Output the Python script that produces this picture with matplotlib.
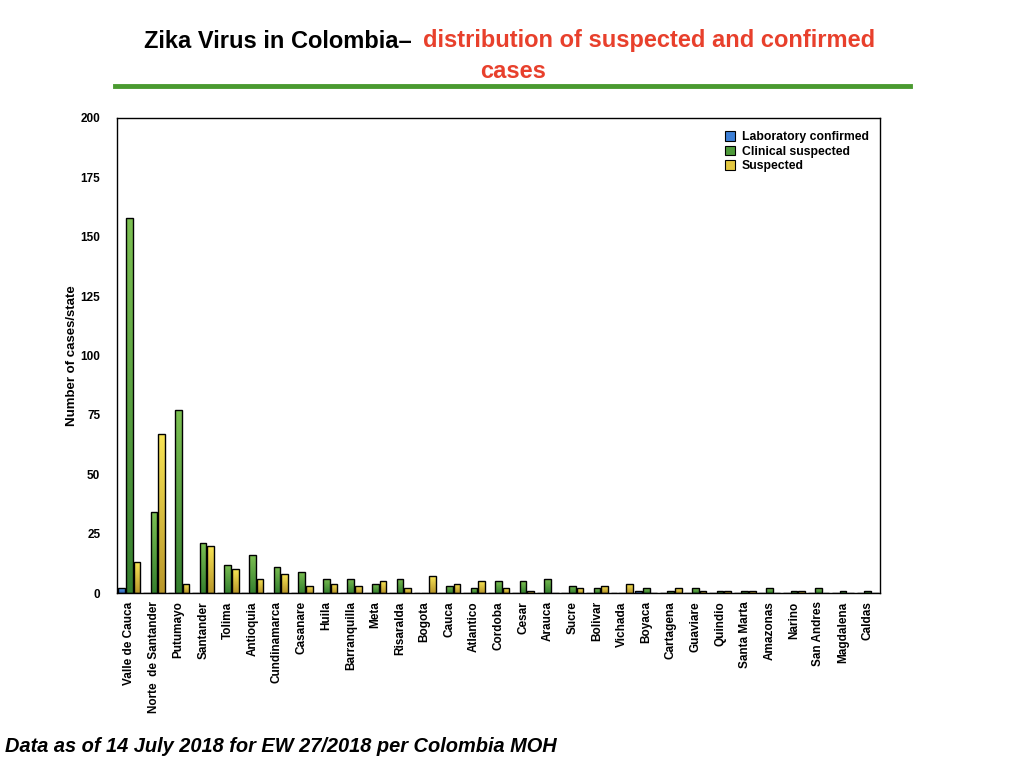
import numpy as np
import matplotlib
matplotlib.use("Agg")
import matplotlib.pyplot as plt
from matplotlib.colors import LinearSegmentedColormap
from matplotlib.patches import Patch

plt.rcParams["font.family"] = ["Liberation Sans", "DejaVu Sans"]
plt.rcParams["font.weight"] = "bold"

# --- data ---
states = ["Valle de Cauca", "Norte  de Santander", "Putumayo", "Santander", "Tolima",
          "Antioquia", "Cundinamarca", "Casanare", "Huila", "Barranquilla", "Meta",
          "Risaralda", "Bogota", "Cauca", "Atlantico", "Cordoba", "Cesar", "Arauca",
          "Sucre", "Bolivar", "Vichada", "Boyaca", "Cartagena", "Guaviare", "Quindio",
          "Santa Marta", "Amazonas", "Narino", "San Andres", "Magdalena", "Caldas"]
lab_confirmed = [2, 0, 0, 0, 0, 0, 0, 0, 0, 0, 0, 0, 0, 0, 0, 0, 0, 0,
                 0, 0, 0, 1, 0, 0, 0, 0, 0, 0, 0, 0, 0]
clinical_suspected = [158, 34, 77, 21, 12, 16, 11, 9, 6, 6, 4, 6, 0, 3, 2, 5, 5, 6,
                      3, 2, 0, 2, 1, 2, 1, 1, 2, 1, 2, 1, 1]
suspected = [13, 67, 4, 20, 10, 6, 8, 3, 4, 3, 5, 2, 7, 4, 5, 2, 1, 0,
             2, 3, 4, 0, 2, 1, 1, 1, 0, 1, 0, 0, 0]
yticks = [0, 25, 50, 75, 100, 125, 150, 175, 200]

series = [
    ("Laboratory confirmed", lab_confirmed, ("#2f63b8", "#5a9de8"), "#3d7fd6"),
    ("Clinical suspected", clinical_suspected, ("#347f2e", "#7cc052"), "#4e9a3a"),
    ("Suspected", suspected, ("#b8962a", "#f8e555"), "#e3c741"),
]

fig = plt.figure(figsize=(10.24, 7.68), dpi=100)
ax = fig.add_axes([117 / 1024, 1 - 593 / 768, 763 / 1024, 475 / 768])

x = np.arange(len(states))
width = 0.27
offset = 0.31
grad = np.linspace(0, 1, 256).reshape(-1, 1)

for i, (name, vals, (c_lo, c_hi), _) in enumerate(series):
    cmap = LinearSegmentedColormap.from_list(name, [c_lo, c_hi])
    bars = ax.bar(x + (i - 1) * offset, vals, width, facecolor="none",
                  edgecolor="black", linewidth=1.0, zorder=3)
    for b in bars:
        h = b.get_height()
        if h <= 0:
            continue
        im = ax.imshow(grad, cmap=cmap, origin="lower", aspect="auto",
                       extent=[b.get_x(), b.get_x() + b.get_width(), 0, h], zorder=2)
        im.set_clip_path(b)

ax.set_xlim(-0.5, len(states) - 0.5)
ax.set_ylim(0, 200)
ax.set_yticks(yticks)
ax.set_xticks(x)
ax.set_xticklabels(states, rotation=90, fontsize=8.5, fontweight="bold")
ax.tick_params(axis="y", length=0, labelsize=8.5, pad=12)
ax.tick_params(axis="x", length=0, pad=6)
for s in ax.spines.values():
    s.set_linewidth(1.0)
ax.set_ylabel("Number of cases/state", fontsize=9.5, fontweight="bold", labelpad=2)

handles = [Patch(facecolor=c, edgecolor="black", linewidth=0.8) for _, _, _, c in series]
ax.legend(handles, [s[0] for s in series], loc="upper right", frameon=False,
          handlelength=0.8, handleheight=0.8, handletextpad=0.6,
          labelspacing=0.2, bbox_to_anchor=(1.0, 0.995),
          prop={"weight": "bold", "size": 8.8})

# title
fig.text(412 / 1024, 1 - 41 / 768, "Zika Virus in Colombia\u2013", ha="right", va="center",
         fontsize=17, fontweight="bold", color="black")
fig.text(423 / 1024, 1 - 41 / 768, "distribution of suspected and confirmed", ha="left",
         va="center", fontsize=17, fontweight="bold", color="#e8402c")
fig.text(513 / 1024, 1 - 72 / 768, "cases", ha="center", va="center",
         fontsize=17, fontweight="bold", color="#e8402c")
fig.add_artist(plt.Line2D([115 / 1024, 910 / 1024], [1 - 86 / 768, 1 - 86 / 768],
                          color="#4a9a30", linewidth=3.5, transform=fig.transFigure))

fig.text(5 / 1024, 1 - 746 / 768, "Data as of 14 July 2018 for EW 27/2018 per Colombia MOH",
         ha="left", va="center", fontsize=14.4, fontweight="bold", style="italic")

fig.savefig("out.png", dpi=100)
